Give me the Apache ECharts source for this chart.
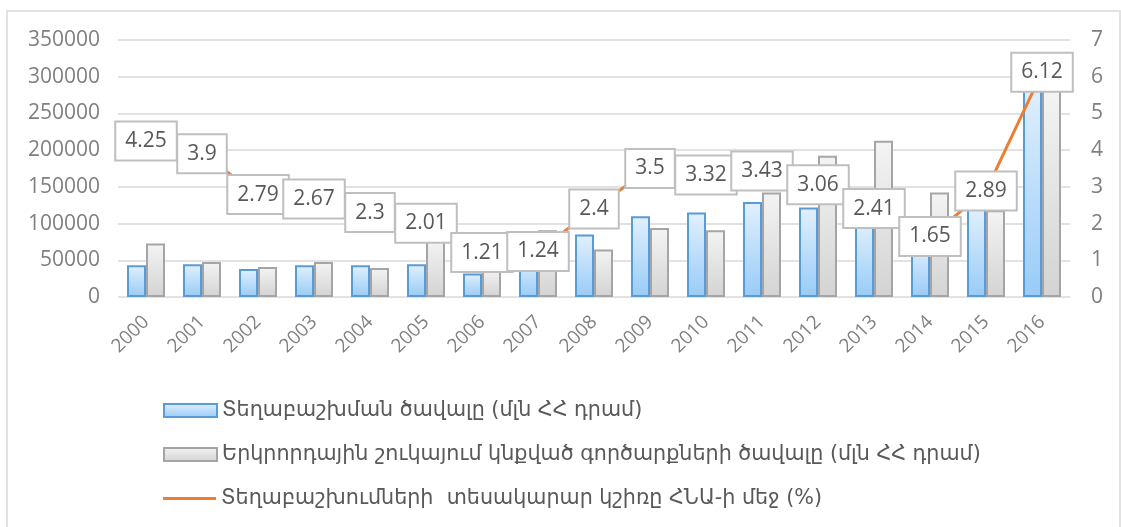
<!DOCTYPE html>
<html>
<head>
<meta charset="utf-8">
<script src="https://cdn.jsdelivr.net/npm/echarts@6/dist/echarts.min.js"></script>
<style>
  html, body { margin: 0; padding: 0; background: #fff; }
  #chart { width: 1121px; height: 527px; }
</style>
</head>
<body>
<div id="chart"></div>
<script>
// Years on the category axis
const years = ['2000','2001','2002','2003','2004','2005','2006','2007','2008',
               '2009','2010','2011','2012','2013','2014','2015','2016'];

// Placement volume, mln AMD (left axis)
const placementVolume = [43200, 44600, 38200, 43200, 43200, 44600, 31900, 52000, 85000,
                         110000, 115000, 129500, 121900, 102000, 72000, 122000, 292000];

// Secondary market deals volume, mln AMD (left axis)
const secondaryVolume = [72800, 47700, 40900, 47700, 39500, 78000, 38000, 91000, 64600,
                         94100, 91000, 142300, 192300, 212700, 142300, 118000, 288000];

// Placements share of GDP, % (right axis)
const gdpShare = [4.25, 3.9, 2.79, 2.67, 2.3, 2.01, 1.21, 1.24, 2.4,
                  3.5, 3.32, 3.43, 3.06, 2.41, 1.65, 2.89, 6.12];

const seriesNames = [
  'Տեղաբաշխման ծավալը (մլն ՀՀ դրամ)',
  'Երկրորդային շուկայում կնքված գործարքների ծավալը (մլն ՀՀ դրամ)',
  'Տեղաբաշխումների  տեսակարար կշիռը ՀՆԱ-ի մեջ (%)'
];

const numFont = '"Open Sans", "Liberation Sans", sans-serif';
const armFont = '"DejaVu Sans", "Noto Sans", sans-serif';

const legendText = { color: '#595959', fontSize: 20.7, fontFamily: armFont };

// One legend block per row so each row sits at its own height
function legendRow(name, top, itemHeight) {
  return {
    orient: 'vertical',
    left: 163,
    top: top,
    padding: 0,
    itemWidth: 53,
    itemHeight: itemHeight,
    itemGap: 0,
    textStyle: legendText,
    data: [{ name: name, icon: 'rect' }]
  };
}

const chart = echarts.init(document.getElementById('chart'), null, { renderer: 'canvas' });

chart.setOption({
  animation: false,
  backgroundColor: '#ffffff',
  graphic: [{
    type: 'rect',
    shape: { x: 7, y: 11, width: 1113, height: 530 },
    style: { fill: 'none', stroke: '#d9d9d9', lineWidth: 1.5 },
    silent: true
  }],
  grid: { left: 118, right: 51, top: 40, bottom: 230 },
  legend: [
    legendRow(seriesNames[0], 400, 13),
    legendRow(seriesNames[1], 444, 13),
    legendRow(seriesNames[2], 488, 3)
  ],
  xAxis: {
    type: 'category',
    data: years,
    axisLine: { show: false },
    axisTick: { show: false },
    axisLabel: {
      rotate: 45,
      margin: 22,
      color: '#7f7f7f',
      fontSize: 19,
      fontFamily: numFont
    }
  },
  yAxis: [{
    type: 'value',
    min: 0, max: 350000, interval: 50000,
    axisLine: { show: false },
    axisTick: { show: false },
    splitLine: { lineStyle: { color: '#d9d9d9', width: 1.5 } },
    axisLabel: {
      color: '#7f7f7f', fontSize: 21, fontFamily: numFont, margin: 18,
      formatter: v => String(v)
    }
  }, {
    type: 'value',
    min: 0, max: 7, interval: 1,
    axisLine: { show: false },
    axisTick: { show: false },
    splitLine: { show: false },
    axisLabel: { color: '#7f7f7f', fontSize: 21, fontFamily: numFont, margin: 21 }
  }],
  series: [{
    name: seriesNames[0],
    type: 'bar',
    data: placementVolume,
    barWidth: 19,
    barGap: '0%',
    itemStyle: {
      color: { type: 'linear', x: 0, y: 0, x2: 0, y2: 1,
        colorStops: [{ offset: 0, color: '#e2f0fd' }, { offset: 1, color: '#98cbf7' }] },
      borderColor: '#5b9bd5',
      borderWidth: 2
    }
  }, {
    name: seriesNames[1],
    type: 'bar',
    data: secondaryVolume,
    barWidth: 19,
    barGap: '0%',
    itemStyle: {
      color: { type: 'linear', x: 0, y: 0, x2: 0, y2: 1,
        colorStops: [{ offset: 0, color: '#f4f4f4' }, { offset: 1, color: '#d3d3d3' }] },
      borderColor: '#a5a5a5',
      borderWidth: 2
    }
  }, {
    name: seriesNames[2],
    type: 'line',
    yAxisIndex: 1,
    data: gdpShare,
    z: 5,
    symbol: 'circle',
    symbolSize: 1,
    showSymbol: true,
    lineStyle: { color: '#ed7d31', width: 3 },
    itemStyle: { color: '#ed7d31' },
    label: {
      show: true,
      position: 'inside',
      color: '#595959',
      fontSize: 21,
      fontFamily: numFont,
      lineHeight: 25,
      backgroundColor: '#ffffff',
      borderColor: '#bfbfbf',
      borderWidth: 2,
      padding: [6, 9, 6, 9]
    }
  }]
});
</script>
</body>
</html>
